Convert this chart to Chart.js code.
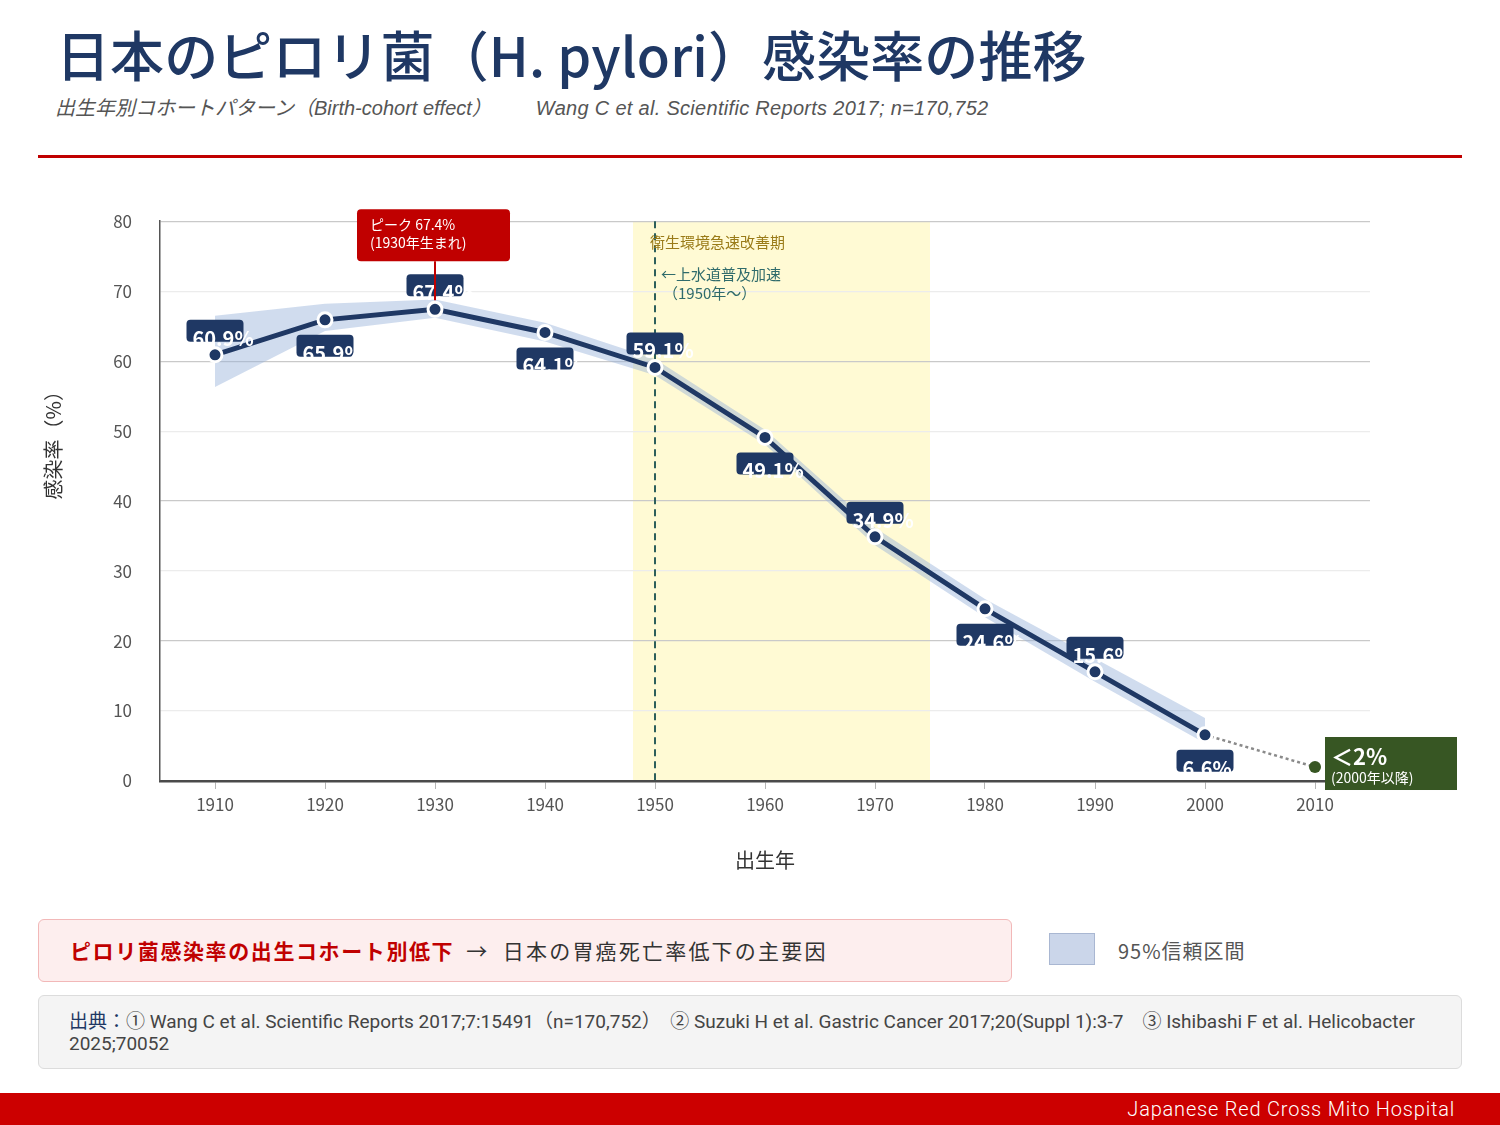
<!DOCTYPE html>
<html lang="ja">
<head>
<meta charset="utf-8">
<title>日本のピロリ菌感染率の推移</title>
<script src="https://cdn.jsdelivr.net/npm/chart.js@4.4.1/dist/chart.umd.min.js"></script>
<style>
  body { margin: 0; width: 1500px; height: 1125px; background: #fff; position: relative; overflow: hidden;
         font-family: "Noto Sans CJK JP", "Noto Sans", sans-serif; }
  .title { position: absolute; left: 56px; top: 14px; font-size: 54px; letter-spacing: 0.1px; font-weight: 500; color: #1f3864; white-space: nowrap; }
  .subtitle { position: absolute; left: 55px; top: 92px; font-size: 20px; font-style: italic; color: #555;
              font-family: "Liberation Sans", "Noto Sans CJK JP", sans-serif; white-space: nowrap; }
  .subtitle span + span { margin-left: 44px; letter-spacing: 0.3px; }
  .rule { position: absolute; left: 38px; top: 155px; width: 1424px; height: 3px; background: #c00000; }
  .chart-box { position: absolute; left: 0; top: 183px; width: 1500px; height: 717px; }
  .message { position: absolute; left: 38px; top: 919px; width: 974px; height: 63px; box-sizing: border-box;
             background: #fdeeee; border: 1.5px solid #f2b8b8; border-radius: 6px;
             padding-left: 31px; line-height: 61px; font-size: 21px; letter-spacing: 1.6px; color: #333; white-space: nowrap; }
  .message b { color: #c00000; font-weight: 700; }
  .message .arrow { margin: 0 14px 0 12px; }
  .message .rest { letter-spacing: 2.2px; }
  .legend-swatch { position: absolute; left: 1049px; top: 933px; width: 46px; height: 32px; box-sizing: border-box;
                   background: #cbd6ea; border: 1.5px solid #a9b7d2; }
  .legend-text { position: absolute; left: 1118px; top: 936px; font-size: 20px; color: #555; letter-spacing: 1px; }
  .source { position: absolute; left: 38px; top: 995px; width: 1424px; height: 74px; box-sizing: border-box;
            background: #f4f4f4; border: 1px solid #dcdcdc; border-radius: 6px;
            padding: 13px 30px; font-size: 19px; line-height: 22px; color: #444;
            font-family: "Roboto", "Noto Sans CJK JP", sans-serif; white-space: nowrap; }
  .source .lead { color: #1f3864; font-family: "Noto Sans CJK JP", sans-serif; }
  .footer { position: absolute; left: 0; top: 1093px; width: 1500px; height: 32px; background: #cc0000; }
  .footer span { position: absolute; right: 45px; top: 4px; color: #fff; font-size: 20px; font-weight: 300; letter-spacing: 0.8px;
                 font-family: "Roboto", sans-serif; }
</style>
</head>
<body>
<div class="title">日本のピロリ菌（H. pylori）感染率の推移</div>
<div class="subtitle"><span>出生年別コホートパターン（Birth-cohort effect）</span><span>Wang C et al. Scientific Reports 2017; n=170,752</span></div>
<div class="rule"></div>

<div class="chart-box"><canvas id="myChart"></canvas></div>

<div class="message"><b>ピロリ菌感染率の出生コホート別低下</b><span class="arrow">→</span><span class="rest">日本の胃癌死亡率低下の主要因</span></div>
<div class="legend-swatch"></div>
<div class="legend-text">95%信頼区間</div>
<div class="source"><span class="lead">出典：</span>① Wang C et al. Scientific Reports 2017;7:15491（n=170,752）　② Suzuki H et al. Gastric Cancer 2017;20(Suppl 1):3-7　③ Ishibashi F et al. Helicobacter<br>2025;70052</div>
<div class="footer"><span>Japanese Red Cross Mito Hospital</span></div>

<script>
// chart values
const birthYears = [1910, 1920, 1930, 1940, 1950, 1960, 1970, 1980, 1990, 2000];
const infectionRate = [60.9, 65.9, 67.4, 64.1, 59.1, 49.1, 34.9, 24.6, 15.6, 6.6];
const ciUpper = [66.5, 68.2, 68.8, 65.5, 60.3, 50.2, 36.2, 26.0, 17.5, 9.0];
const ciLower = [56.3, 64.3, 66.2, 62.8, 58.0, 48.1, 33.7, 23.4, 14.2, 5.4];
const labelAbove = [true, false, true, false, true, false, true, false, true, false];

const trendYears = [2000, 2010];
const trendRates = [6.6, 2];

const xTickYears = [1910, 1920, 1930, 1940, 1950, 1960, 1970, 1980, 1990, 2000, 2010];
const sanitationPeriod = [1948, 1975];
const waterSupplyYear = 1950;
const peakIndex = 2;

const FONT = '"Noto Sans CJK JP", "Noto Sans", sans-serif';
const NAVY = '#1f3864';

function toPoints(xs, ys) {
  return xs.map((x, i) => ({ x: x, y: ys[i] }));
}

// yellow period band + dashed 1950 line behind the data
const backdropPlugin = {
  id: 'backdrop',
  beforeDraw(chart) {
    const { ctx, chartArea, scales } = chart;
    const x0 = scales.x.getPixelForValue(sanitationPeriod[0]);
    const x1 = scales.x.getPixelForValue(sanitationPeriod[1]);
    ctx.save();
    ctx.fillStyle = '#fffad4';
    ctx.fillRect(x0, chartArea.top, x1 - x0, chartArea.bottom - chartArea.top);
    ctx.restore();
  },
  beforeDatasetsDraw(chart) {
    const { ctx, chartArea, scales } = chart;
    const x = scales.x.getPixelForValue(waterSupplyYear);
    ctx.save();
    ctx.strokeStyle = '#2d5f5b';
    ctx.lineWidth = 2;
    ctx.setLineDash([7, 5]);
    ctx.beginPath();
    ctx.moveTo(x, chartArea.top);
    ctx.lineTo(x, chartArea.bottom);
    ctx.stroke();
    ctx.restore();
  }
};

// value boxes, period notes, peak callout, <2% box, y title
const notesPlugin = {
  id: 'notes',
  afterDatasetsDraw(chart) {
    const { ctx, scales, chartArea } = chart;
    const meta = chart.getDatasetMeta(0);
    ctx.save();

    // y axis title sits a bit above the middle in the original
    ctx.save();
    ctx.translate(53, chartArea.top + 219);
    ctx.rotate(-Math.PI / 2);
    ctx.textAlign = 'center';
    ctx.textBaseline = 'middle';
    ctx.fillStyle = '#333';
    ctx.font = '20px ' + FONT;
    ctx.fillText('感染率（%）', 0, 0);
    ctx.restore();

    // period notes
    const xLine = scales.x.getPixelForValue(waterSupplyYear);
    const yTop = chartArea.top;
    ctx.textBaseline = 'middle';
    ctx.font = '15px ' + FONT;
    ctx.fillStyle = '#9a7b18';
    ctx.fillText('衛生環境急速改善期', xLine - 5, yTop + 21);
    ctx.fillStyle = '#2f6b6b';
    ctx.fillText('←上水道普及加速', xLine + 6, yTop + 53);
    ctx.fillText('（1950年〜）', xLine + 8, yTop + 72);

    // value labels (the text overflows its box, as in the original)
    ctx.textBaseline = 'alphabetic';
    meta.data.forEach((pt, i) => {
      const w = 57, h = 22;
      const left = pt.x - w / 2;
      const top = labelAbove[i] ? pt.y - 35 : pt.y + 15;
      ctx.fillStyle = NAVY;
      ctx.beginPath();
      ctx.roundRect(left, top, w, h, 4);
      ctx.fill();
      ctx.fillStyle = '#fff';
      ctx.font = 'bold 20px ' + FONT;
      ctx.fillText(infectionRate[i].toFixed(1) + '%', left + 6, top + h + 4);
    });

    // peak callout
    const peak = meta.data[peakIndex];
    ctx.fillStyle = '#c00000';
    ctx.beginPath();
    ctx.roundRect(peak.x - 78, peak.y - 100, 153, 52, 4);
    ctx.fill();
    ctx.strokeStyle = '#c00000';
    ctx.lineWidth = 2;
    ctx.beginPath();
    ctx.moveTo(peak.x, peak.y - 48);
    ctx.lineTo(peak.x, peak.y - 9);
    ctx.stroke();
    ctx.fillStyle = '#fff';
    ctx.font = '14px ' + FONT;
    ctx.fillText('ピーク ' + infectionRate[peakIndex] + '%', peak.x - 65, peak.y - 79);
    ctx.fillText('(' + birthYears[peakIndex] + '年生まれ)', peak.x - 65, peak.y - 61);

    // recent estimate box
    const last = chart.getDatasetMeta(1).data[1];
    ctx.fillStyle = '#375623';
    ctx.fillRect(last.x + 10, last.y - 30, 132, 53);
    ctx.fillStyle = '#fff';
    ctx.font = 'bold 22px ' + FONT;
    ctx.fillText('＜' + trendRates[1] + '%', last.x + 16, last.y - 2);
    ctx.font = '14px ' + FONT;
    ctx.fillText('(2000年以降)', last.x + 16, last.y + 16);

    ctx.restore();
  }
};

const chartData = {
  datasets: [
    {
      label: '感染率',
      data: toPoints(birthYears, infectionRate),
      borderColor: NAVY,
      borderWidth: 5,
      pointRadius: 7,
      pointBackgroundColor: NAVY,
      pointBorderColor: '#fff',
      pointBorderWidth: 3,
      fill: false
    },
    {
      label: 'trend',
      data: toPoints(trendYears, trendRates),
      borderColor: '#8a8a8a',
      borderWidth: 2.5,
      borderDash: [3, 3],
      pointRadius: [0, 6],
      pointBackgroundColor: '#375623',
      pointBorderWidth: 0,
      fill: false
    },
    {
      label: '95%信頼区間',
      data: toPoints(birthYears, ciUpper),
      borderWidth: 0,
      pointRadius: 0,
      backgroundColor: 'rgba(150, 178, 218, 0.45)',
      fill: '+1'
    },
    {
      label: 'ci-lower',
      data: toPoints(birthYears, ciLower),
      borderWidth: 0,
      pointRadius: 0,
      fill: false
    }
  ]
};

const lineConfig = {
  type: 'line',
  data: chartData,
  plugins: [backdropPlugin, notesPlugin],
  options: {
    responsive: true,
    maintainAspectRatio: false,
    animation: false,
    layout: { padding: { left: 30, right: 130, top: 0, bottom: 0 } },
    plugins: {
      legend: { display: false },
      tooltip: { enabled: false }
    },
    scales: {
      x: {
        type: 'linear',
        min: 1905,
        max: 2015,
        afterBuildTicks: axis => { axis.ticks = xTickYears.map(v => ({ value: v })); },
        afterFit: scale => { scale.height = 119; },
        ticks: { callback: v => String(v), color: '#555', font: { family: FONT, size: 17 }, padding: 5, maxRotation: 0 },
        grid: { drawOnChartArea: false, tickLength: 8, tickColor: '#b5b5b5' },
        border: { color: '#4a4a4a', width: 2.5 },
        title: { display: true, text: '出生年', color: '#333', font: { family: FONT, size: 20 }, padding: { top: 0, bottom: 28 } }
      },
      y: {
        min: 0,
        max: 80,
        afterFit: scale => { scale.width = 130; },
        ticks: { stepSize: 10, color: '#555', font: { family: FONT, size: 17 }, padding: 28 },
        grid: {
          drawTicks: false,
          color: c => (c.tick && c.tick.value % 20 === 0) ? '#c9c9c9' : '#ececec',
          lineWidth: 1.2
        },
        border: { color: '#555', width: 1.5 },
        title: { display: false }
      }
    }
  }
};

let myChart = new Chart(document.getElementById('myChart'), lineConfig);
</script>
</body>
</html>
